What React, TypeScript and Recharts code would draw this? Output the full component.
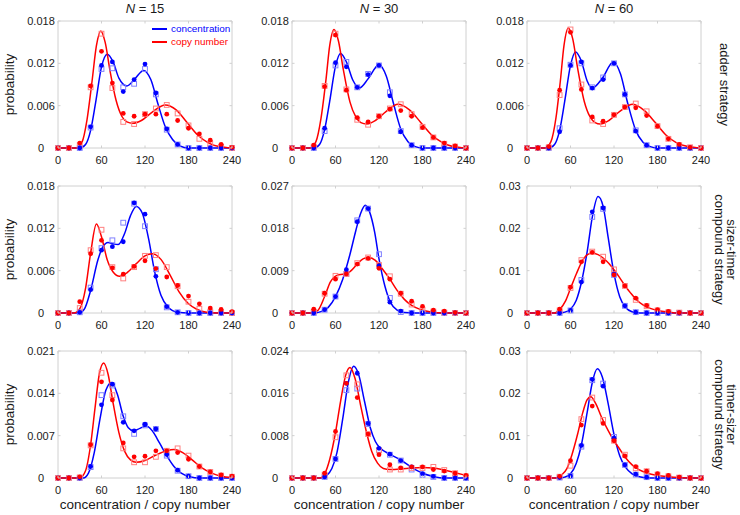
import React from 'react';
import { ComposedChart, Line, Scatter, XAxis, YAxis, ReferenceArea, Legend } from 'recharts';

// ---------- shared axes ----------
const X_POINTS = [0, 15, 30, 45, 60, 75, 90, 105, 120, 135, 150, 165, 180, 195, 210, 225, 240];
const X_TICKS = [0, 60, 120, 180, 240];

const Y_TICKS_A15 = [0, 0.006, 0.012, 0.018];
const Y_TICKS_A30 = [0, 0.006, 0.012, 0.018];
const Y_TICKS_A60 = [0, 0.006, 0.012, 0.018];
const Y_TICKS_ST15 = [0, 0.006, 0.012, 0.018];
const Y_TICKS_ST30 = [0, 0.009, 0.018, 0.027];
const Y_TICKS_ST60 = [0, 0.01, 0.02, 0.03];
const Y_TICKS_TS15 = [0, 0.007, 0.014, 0.021];
const Y_TICKS_TS30 = [0, 0.008, 0.016, 0.024];
const Y_TICKS_TS60 = [0, 0.01, 0.02, 0.03];

const COL_TITLES = ['15', '30', '60'];
const ROW_LABELS = [['adder strategy'], ['sizer-timer', 'compound strategy'], ['timer-sizer', 'compound strategy']];
const LEGEND_ITEMS = [
  { label: 'concentration', color: '#0000ff' },
  { label: 'copy number', color: '#ff0000' },
];

// ---------- adder, N = 15 ----------
const a15ConcDots = [0, 0, 0, 0.003, 0.0117, 0.0122, 0.008, 0.0097, 0.0119, 0.0078, 0.0027, 0.0005, 0, 0, 0, 0, 0];
const a15ConcSq = [0, 0, 0, 0.0029, 0.0112, 0.0113, 0.0086, 0.0091, 0.0112, 0.0076, 0.0026, 0.0005, 0, 0, 0, 0, 0];
const a15CopyDots = [0, 0, 0.0007, 0.0088, 0.0137, 0.0092, 0.0049, 0.0045, 0.0048, 0.0048, 0.0048, 0.0039, 0.0028, 0.002, 0.0011, 0.0005, 0.0001];
const a15CopySq = [0, 0, 0.0004, 0.0086, 0.0162, 0.0085, 0.0037, 0.0034, 0.0048, 0.0056, 0.0061, 0.0049, 0.0032, 0.0013, 0.0006, 0.0002, 0];
const a15ConcCurve = [[0, 0], [30, 0], [38, 0.0005], [45, 0.0025], [52, 0.0065], [60, 0.0115], [68, 0.0133], [76, 0.0122], [84, 0.0099], [95, 0.0088], [106, 0.0098], [118, 0.011], [128, 0.0097], [138, 0.0062], [148, 0.003], [158, 0.0012], [168, 0.0003], [180, 0], [240, 0]];
const a15CopyCurve = [[0, 0], [25, 0], [33, 0.0008], [40, 0.004], [47, 0.0095], [53, 0.0145], [59, 0.0166], [65, 0.015], [72, 0.0108], [80, 0.0068], [88, 0.0045], [95, 0.0037], [103, 0.0035], [115, 0.0039], [130, 0.0051], [148, 0.0061], [163, 0.0054], [178, 0.0036], [193, 0.0018], [208, 0.0007], [222, 0.0002], [240, 0]];

// ---------- adder, N = 30 ----------
const a30ConcDots = [0, 0, 0, 0.0028, 0.0121, 0.0115, 0.0086, 0.0104, 0.0117, 0.0074, 0.0023, 0.0004, 0, 0, 0, 0, 0];
const a30ConcSq = [0, 0, 0, 0.0024, 0.0117, 0.0122, 0.0086, 0.0105, 0.0117, 0.0079, 0.0024, 0.0004, 0, 0, 0, 0, 0];
const a30CopyDots = [0, 0, 0.0004, 0.0087, 0.016, 0.0082, 0.0043, 0.0037, 0.0045, 0.0055, 0.0053, 0.0045, 0.0029, 0.0015, 0.0007, 0.0003, 0];
const a30CopySq = [0, 0, 0.0002, 0.0088, 0.0162, 0.0083, 0.004, 0.0033, 0.0045, 0.0056, 0.0062, 0.0048, 0.003, 0.0015, 0.0006, 0.0002, 0];
const a30ConcCurve = [[0, 0], [30, 0], [38, 0.0005], [45, 0.0026], [52, 0.0066], [60, 0.0116], [67, 0.0134], [75, 0.0122], [84, 0.0096], [93, 0.0085], [105, 0.0098], [120, 0.0118], [130, 0.0102], [140, 0.0063], [150, 0.0027], [160, 0.0009], [170, 0.0002], [180, 0], [240, 0]];
const a30CopyCurve = [[0, 0], [25, 0], [33, 0.0009], [40, 0.0042], [47, 0.0098], [52, 0.0145], [58, 0.0168], [64, 0.0152], [71, 0.011], [80, 0.0065], [88, 0.0044], [95, 0.0036], [103, 0.0034], [115, 0.0039], [130, 0.0052], [146, 0.0062], [162, 0.0054], [177, 0.0037], [192, 0.0019], [207, 0.0008], [222, 0.0002], [240, 0]];

// ---------- adder, N = 60 ----------
const a60ConcDots = [0, 0, 0, 0.0023, 0.0117, 0.0122, 0.0085, 0.0097, 0.012, 0.0076, 0.0024, 0.0004, 0, 0, 0, 0, 0];
const a60ConcSq = [0, 0, 0, 0.0028, 0.0118, 0.012, 0.0086, 0.01, 0.012, 0.0076, 0.0025, 0.0004, 0, 0, 0, 0, 0];
const a60CopyDots = [0, 0, 0.0002, 0.0082, 0.0164, 0.0083, 0.0044, 0.0038, 0.0047, 0.0058, 0.0057, 0.0046, 0.0031, 0.0013, 0.0005, 0.0001, 0];
const a60CopySq = [0, 0, 0.0001, 0.0075, 0.0168, 0.009, 0.0039, 0.0034, 0.0047, 0.0058, 0.0063, 0.0052, 0.0031, 0.0013, 0.0004, 0.0001, 0];
const a60ConcCurve = [[0, 0], [30, 0], [38, 0.0005], [45, 0.0025], [52, 0.0066], [60, 0.0117], [67, 0.0136], [75, 0.0123], [83, 0.0095], [90, 0.0085], [104, 0.0099], [119, 0.0122], [129, 0.0105], [139, 0.0063], [150, 0.0025], [160, 0.0008], [170, 0.0002], [180, 0], [240, 0]];
const a60CopyCurve = [[0, 0], [25, 0], [33, 0.0009], [40, 0.0043], [46, 0.0095], [51, 0.0145], [57, 0.017], [63, 0.0155], [70, 0.0112], [79, 0.0066], [87, 0.0044], [94, 0.0036], [101, 0.0034], [113, 0.0039], [128, 0.0052], [146, 0.0062], [162, 0.0053], [177, 0.0036], [192, 0.0018], [207, 0.0007], [222, 0.0002], [240, 0]];

// ---------- sizer-timer, N = 15 ----------
const st15ConcDots = [0, 0, 0.0001, 0.0033, 0.0089, 0.0094, 0.0101, 0.0156, 0.014, 0.0052, 0.0009, 0.0001, 0, 0, 0, 0, 0];
const st15ConcSq = [0, 0, 0.0001, 0.0036, 0.0092, 0.0103, 0.0128, 0.0155, 0.0123, 0.0062, 0.0008, 0.0001, 0, 0, 0, 0, 0];
const st15CopyDots = [0, 0, 0.0016, 0.0084, 0.0103, 0.0064, 0.0055, 0.0066, 0.0074, 0.0063, 0.0051, 0.0039, 0.0024, 0.0013, 0.0007, 0.0005, 0.0002];
const st15CopySq = [0, 0, 0.0007, 0.0089, 0.0118, 0.0065, 0.0049, 0.0065, 0.0081, 0.0082, 0.0065, 0.0038, 0.0016, 0.0006, 0.0002, 0.0001, 0];
const st15ConcCurve = [[0, 0], [28, 0], [36, 0.0005], [45, 0.0032], [55, 0.0075], [62, 0.0094], [69, 0.01], [76, 0.0098], [83, 0.0097], [92, 0.0113], [100, 0.0138], [108, 0.0151], [116, 0.0142], [125, 0.0105], [133, 0.006], [142, 0.0025], [152, 0.0008], [165, 0.0001], [180, 0], [240, 0]];
const st15CopyCurve = [[0, 0], [22, 0], [30, 0.0006], [38, 0.0035], [45, 0.0085], [53, 0.0126], [60, 0.0108], [68, 0.0075], [76, 0.0058], [85, 0.0052], [95, 0.0057], [108, 0.007], [120, 0.0081], [130, 0.0084], [142, 0.0076], [155, 0.0053], [167, 0.003], [180, 0.0013], [192, 0.0005], [205, 0.0001], [220, 0], [240, 0]];

// ---------- sizer-timer, N = 30 ----------
const st30ConcDots = [0, 0, 0, 0.0007, 0.0035, 0.0092, 0.0194, 0.0222, 0.01, 0.0023, 0.0004, 0, 0, 0, 0, 0, 0];
const st30ConcSq = [0, 0, 0, 0.0007, 0.0035, 0.0083, 0.0197, 0.0222, 0.0125, 0.0032, 0.0002, 0, 0, 0, 0, 0, 0];
const st30CopyDots = [0, 0, 0.0008, 0.0042, 0.0072, 0.0083, 0.0104, 0.0116, 0.0095, 0.0072, 0.0042, 0.0025, 0.0014, 0.0006, 0.0004, 0.0001, 0];
const st30CopySq = [0, 0, 0.0003, 0.0041, 0.0079, 0.0083, 0.0106, 0.0118, 0.0102, 0.0078, 0.0041, 0.0018, 0.0007, 0.0003, 0.0001, 0, 0];
const st30ConcCurve = [[0, 0], [30, 0], [40, 0.0003], [50, 0.0012], [60, 0.0035], [70, 0.0072], [80, 0.0125], [88, 0.0175], [95, 0.0213], [101, 0.0229], [107, 0.0215], [114, 0.0172], [120, 0.0115], [128, 0.0058], [136, 0.0022], [145, 0.0006], [155, 0.0001], [170, 0], [240, 0]];
const st30CopyCurve = [[0, 0], [28, 0], [36, 0.0006], [45, 0.0035], [53, 0.0066], [62, 0.008], [72, 0.0083], [80, 0.0088], [90, 0.0104], [98, 0.0115], [106, 0.0118], [115, 0.0112], [125, 0.0093], [135, 0.0072], [145, 0.0048], [155, 0.0029], [165, 0.0016], [178, 0.0007], [192, 0.0002], [210, 0], [240, 0]];

// ---------- sizer-timer, N = 60 ----------
const st60ConcDots = [0, 0, 0, 0, 0.0006, 0.0073, 0.0239, 0.0248, 0.0092, 0.0017, 0.0002, 0, 0, 0, 0, 0, 0];
const st60ConcSq = [0, 0, 0, 0, 0.0006, 0.0078, 0.0227, 0.0246, 0.009, 0.0017, 0.0002, 0, 0, 0, 0, 0, 0];
const st60CopyDots = [0, 0, 0, 0.0009, 0.0061, 0.0121, 0.0143, 0.0121, 0.009, 0.0064, 0.0035, 0.0018, 0.0008, 0.0004, 0.0001, 0, 0];
const st60CopySq = [0, 0, 0, 0.0006, 0.0059, 0.0125, 0.0145, 0.0133, 0.0103, 0.0064, 0.0031, 0.0016, 0.0006, 0.0002, 0.0001, 0, 0];
const st60ConcCurve = [[0, 0], [45, 0], [52, 0.0002], [60, 0.0009], [68, 0.003], [75, 0.0072], [83, 0.0145], [90, 0.0226], [98, 0.0275], [105, 0.0252], [112, 0.0178], [120, 0.0093], [128, 0.0038], [136, 0.0013], [145, 0.0003], [155, 0], [240, 0]];
const st60CopyCurve = [[0, 0], [38, 0], [45, 0.0008], [53, 0.0028], [60, 0.0058], [68, 0.0092], [75, 0.0119], [82, 0.0136], [90, 0.0142], [98, 0.0138], [105, 0.013], [113, 0.0117], [120, 0.0102], [128, 0.0083], [135, 0.0065], [143, 0.0047], [150, 0.0033], [160, 0.0019], [170, 0.0011], [180, 0.0006], [195, 0.0002], [210, 0], [240, 0]];

// ---------- timer-sizer, N = 15 ----------
const ts15ConcDots = [0, 0, 0, 0.0019, 0.0121, 0.0155, 0.0092, 0.0078, 0.0089, 0.0081, 0.0039, 0.0013, 0.0003, 0, 0, 0, 0];
const ts15ConcSq = [0, 0, 0, 0.0018, 0.0137, 0.0153, 0.0102, 0.0073, 0.0087, 0.0081, 0.0037, 0.0012, 0.0003, 0, 0, 0, 0];
const ts15CopyDots = [0, 0, 0.0002, 0.0055, 0.0159, 0.0129, 0.0058, 0.0035, 0.0036, 0.0045, 0.0045, 0.0042, 0.0031, 0.0019, 0.001, 0.0005, 0.0003];
const ts15CopySq = [0, 0, 0.0001, 0.0054, 0.0174, 0.0137, 0.0049, 0.0026, 0.0026, 0.0035, 0.0045, 0.0049, 0.0037, 0.0019, 0.001, 0.0004, 0.0002];
const ts15ConcCurve = [[0, 0], [35, 0], [42, 0.0008], [50, 0.0042], [58, 0.0098], [66, 0.0145], [74, 0.0158], [82, 0.0138], [90, 0.0102], [97, 0.0083], [104, 0.0078], [113, 0.0082], [122, 0.0086], [130, 0.0078], [140, 0.0058], [150, 0.0037], [160, 0.0019], [170, 0.0008], [182, 0.0002], [195, 0], [240, 0]];
const ts15CopyCurve = [[0, 0], [30, 0], [38, 0.0012], [45, 0.0055], [51, 0.0115], [57, 0.0172], [63, 0.019], [69, 0.0172], [76, 0.0124], [84, 0.0075], [92, 0.0044], [100, 0.003], [108, 0.0026], [120, 0.0029], [135, 0.0038], [150, 0.0045], [160, 0.0047], [172, 0.0042], [185, 0.003], [198, 0.0017], [212, 0.0008], [225, 0.0003], [240, 0.0001]];

// ---------- timer-sizer, N = 30 ----------
const ts30ConcDots = [0, 0, 0, 0.0002, 0.0036, 0.0179, 0.0198, 0.0103, 0.0056, 0.0045, 0.0033, 0.0021, 0.0008, 0.0003, 0, 0, 0];
const ts30ConcSq = [0, 0, 0, 0.0002, 0.0036, 0.0166, 0.0169, 0.0102, 0.0053, 0.0044, 0.0033, 0.0016, 0.0006, 0.0002, 0, 0, 0];
const ts30CopyDots = [0, 0, 0, 0.0009, 0.0088, 0.0179, 0.0152, 0.0083, 0.0044, 0.0025, 0.0019, 0.0021, 0.0021, 0.0016, 0.0013, 0.0009, 0.0005];
const ts30CopySq = [0, 0, 0, 0.0006, 0.0077, 0.0194, 0.0177, 0.0083, 0.0052, 0.0016, 0.0016, 0.0019, 0.0019, 0.0021, 0.0015, 0.0009, 0.0003];
const ts30ConcCurve = [[0, 0], [40, 0], [48, 0.0005], [55, 0.0018], [62, 0.0048], [70, 0.0112], [78, 0.0183], [85, 0.0211], [92, 0.0195], [100, 0.0145], [108, 0.0095], [115, 0.0069], [122, 0.0056], [135, 0.0045], [150, 0.0034], [165, 0.002], [180, 0.0009], [195, 0.0003], [210, 0], [240, 0]];
const ts30CopyCurve = [[0, 0], [38, 0], [45, 0.0008], [52, 0.0035], [60, 0.0086], [67, 0.0145], [74, 0.0194], [80, 0.0209], [87, 0.0188], [95, 0.0135], [103, 0.0085], [110, 0.005], [118, 0.0028], [126, 0.0018], [135, 0.0016], [150, 0.0017], [165, 0.0019], [180, 0.002], [195, 0.0019], [210, 0.0015], [225, 0.001], [240, 0.0005]];

// ---------- timer-sizer, N = 60 ----------
const ts60ConcDots = [0, 0, 0, 0.0001, 0.0005, 0.0077, 0.0233, 0.0217, 0.0094, 0.0031, 0.0009, 0.0002, 0, 0, 0, 0, 0];
const ts60ConcSq = [0, 0, 0, 0.0001, 0.0005, 0.0074, 0.0231, 0.0223, 0.0097, 0.0031, 0.0008, 0.0002, 0, 0, 0, 0, 0];
const ts60CopyDots = [0, 0, 0, 0.0004, 0.0041, 0.0125, 0.017, 0.0129, 0.0088, 0.0052, 0.0027, 0.0016, 0.001, 0.0006, 0.0002, 0, 0];
const ts60CopySq = [0, 0, 0, 0.0003, 0.0029, 0.0139, 0.019, 0.0137, 0.0088, 0.0055, 0.0023, 0.0016, 0.0008, 0.0004, 0.0001, 0, 0];
const ts60ConcCurve = [[0, 0], [45, 0], [52, 0.0002], [60, 0.001], [68, 0.0035], [75, 0.0078], [83, 0.0155], [90, 0.0225], [97, 0.0258], [104, 0.0238], [112, 0.0175], [120, 0.0103], [128, 0.0052], [136, 0.0025], [145, 0.001], [155, 0.0003], [170, 0], [240, 0]];
const ts60CopyCurve = [[0, 0], [40, 0], [47, 0.0006], [55, 0.0022], [62, 0.0055], [70, 0.0105], [77, 0.0155], [83, 0.0185], [88, 0.0192], [95, 0.0175], [103, 0.0143], [112, 0.0112], [120, 0.0088], [128, 0.0068], [136, 0.0048], [145, 0.0031], [155, 0.0019], [165, 0.0012], [180, 0.0006], [195, 0.0003], [210, 0.0001], [225, 0], [240, 0]];

const PANELS = [
  { row: 0, col: 0, yTicks: Y_TICKS_A15, concDots: a15ConcDots, concSq: a15ConcSq, copyDots: a15CopyDots, copySq: a15CopySq, concCurve: a15ConcCurve, copyCurve: a15CopyCurve, legend: true },
  { row: 0, col: 1, yTicks: Y_TICKS_A30, concDots: a30ConcDots, concSq: a30ConcSq, copyDots: a30CopyDots, copySq: a30CopySq, concCurve: a30ConcCurve, copyCurve: a30CopyCurve },
  { row: 0, col: 2, yTicks: Y_TICKS_A60, concDots: a60ConcDots, concSq: a60ConcSq, copyDots: a60CopyDots, copySq: a60CopySq, concCurve: a60ConcCurve, copyCurve: a60CopyCurve },
  { row: 1, col: 0, yTicks: Y_TICKS_ST15, concDots: st15ConcDots, concSq: st15ConcSq, copyDots: st15CopyDots, copySq: st15CopySq, concCurve: st15ConcCurve, copyCurve: st15CopyCurve },
  { row: 1, col: 1, yTicks: Y_TICKS_ST30, concDots: st30ConcDots, concSq: st30ConcSq, copyDots: st30CopyDots, copySq: st30CopySq, concCurve: st30ConcCurve, copyCurve: st30CopyCurve },
  { row: 1, col: 2, yTicks: Y_TICKS_ST60, concDots: st60ConcDots, concSq: st60ConcSq, copyDots: st60CopyDots, copySq: st60CopySq, concCurve: st60ConcCurve, copyCurve: st60CopyCurve },
  { row: 2, col: 0, yTicks: Y_TICKS_TS15, concDots: ts15ConcDots, concSq: ts15ConcSq, copyDots: ts15CopyDots, copySq: ts15CopySq, concCurve: ts15ConcCurve, copyCurve: ts15CopyCurve },
  { row: 2, col: 1, yTicks: Y_TICKS_TS30, concDots: ts30ConcDots, concSq: ts30ConcSq, copyDots: ts30CopyDots, copySq: ts30CopySq, concCurve: ts30ConcCurve, copyCurve: ts30CopyCurve },
  { row: 2, col: 2, yTicks: Y_TICKS_TS60, concDots: ts60ConcDots, concSq: ts60ConcSq, copyDots: ts60CopyDots, copySq: ts60CopySq, concCurve: ts60ConcCurve, copyCurve: ts60CopyCurve },
];

// ---------- layout / style ----------
const FONT = '"Liberation Sans", Arial, Helvetica, sans-serif';
const BLUE = '#0000ff';
const RED = '#ff0000';
const BLUE_LIGHT = '#8080ff';
const RED_LIGHT = '#ff8080';
const FRAME = '#d0d0d0';
const TEXT = '#1a1a1a';

const PLOT_LEFT = [58, 292, 527];
const PLOT_TOP = [21, 186, 351];
const PLOT_W = 174;
const PLOT_H = 127;
const Y_AXIS_W = 40;
const X_AXIS_H = 25;
const M_TOP = 10;
const M_RIGHT = 10;
const TICK_LEN = 2.5;
const CHART_W = Y_AXIS_W + PLOT_W + M_RIGHT;
const CHART_H = M_TOP + PLOT_H + X_AXIS_H;

const toCurve = (pairs: number[][]) => pairs.map(([x, y]) => ({ x, y }));
const toPoints = (vals: number[]) => X_POINTS.map((x, i) => ({ x, y: vals[i] }));

const makeSquare = (color: string) => (props: any) => {
  const { cx, cy } = props;
  if (cx == null || cy == null) return <g />;
  return <rect x={cx - 2.4} y={cy - 2.4} width={4.8} height={4.8} fill="none" stroke={color} strokeWidth={1} />;
};
const makeDot = (color: string) => (props: any) => {
  const { cx, cy } = props;
  if (cx == null || cy == null) return <g />;
  return <circle cx={cx} cy={cy} r={2.4} fill={color} />;
};

// y tick: label centred left of the frame, plus short inward marks on left and right edges
const YTick = (props: any) => {
  const { x, y, payload } = props;
  return (
    <g>
      <line x1={x} x2={x + TICK_LEN} y1={y} y2={y} stroke={FRAME} />
      <line x1={x + PLOT_W} x2={x + PLOT_W - TICK_LEN} y1={y} y2={y} stroke={FRAME} />
      <text x={x - 17} y={y} dy="0.36em" textAnchor="middle" fontSize={11} fontFamily={FONT} fill={TEXT}>
        {String(payload.value)}
      </text>
    </g>
  );
};
// x tick: label under the frame, plus short inward marks on bottom and top edges
const XTick = (props: any) => {
  const { x, y, payload } = props;
  return (
    <g>
      <line x1={x} x2={x} y1={y} y2={y - TICK_LEN} stroke={FRAME} />
      <line x1={x} x2={x} y1={y - PLOT_H} y2={y - PLOT_H + TICK_LEN} stroke={FRAME} />
      <text x={x} y={y + 16} textAnchor="middle" fontSize={11} fontFamily={FONT} fill={TEXT}>
        {String(payload.value)}
      </text>
    </g>
  );
};

const LegendContent = () => (
  <div style={{ fontFamily: FONT, fontSize: 9.9, lineHeight: '13.4px' }}>
    {LEGEND_ITEMS.map((item) => (
      <div key={item.label} style={{ display: 'flex', alignItems: 'center', color: item.color, whiteSpace: 'nowrap' }}>
        <span style={{ display: 'inline-block', width: 15, height: 0, borderTop: `2px solid ${item.color}`, marginRight: 4 }} />
        {item.label}
      </div>
    ))}
  </div>
);

function Panel({ p }: { p: any }) {
  const left = PLOT_LEFT[p.col] - Y_AXIS_W;
  const top = PLOT_TOP[p.row] - M_TOP;
  const ymax = p.yTicks[p.yTicks.length - 1];
  return (
    <div style={{ position: 'absolute', left, top, width: CHART_W, height: CHART_H }}>
      <ComposedChart width={CHART_W} height={CHART_H} margin={{ top: M_TOP, right: M_RIGHT, bottom: 0, left: 0 }}>
        <ReferenceArea x1={0} x2={240} y1={0} y2={ymax} fill="none" stroke={FRAME} strokeWidth={1} ifOverflow="visible" />
        <XAxis
          type="number"
          dataKey="x"
          domain={[0, 240]}
          ticks={X_TICKS}
          interval={0}
          tickLine={false}
          axisLine={false}
          tickSize={0}
          tickMargin={0}
          height={X_AXIS_H}
          tick={<XTick />}
        />
        <YAxis
          type="number"
          dataKey="y"
          domain={[0, ymax]}
          ticks={p.yTicks}
          interval={0}
          tickLine={false}
          axisLine={false}
          tickSize={0}
          tickMargin={0}
          width={Y_AXIS_W}
          tick={<YTick />}
        />
        <Scatter data={toPoints(p.concSq)} shape={makeSquare(BLUE_LIGHT)} isAnimationActive={false} />
        <Scatter data={toPoints(p.copySq)} shape={makeSquare(RED_LIGHT)} isAnimationActive={false} />
        <Line data={toCurve(p.concCurve)} dataKey="y" type="monotone" stroke={BLUE} strokeWidth={1.5} dot={false} activeDot={false} isAnimationActive={false} />
        <Line data={toCurve(p.copyCurve)} dataKey="y" type="monotone" stroke={RED} strokeWidth={1.5} dot={false} activeDot={false} isAnimationActive={false} />
        <Scatter data={toPoints(p.concDots)} shape={makeDot(BLUE)} isAnimationActive={false} />
        <Scatter data={toPoints(p.copyDots)} shape={makeDot(RED)} isAnimationActive={false} />
        {p.legend ? (
          <Legend
            layout="vertical"
            align="center"
            verticalAlign="middle"
            content={<LegendContent />}
            wrapperStyle={{ left: 134, top: 11, width: 'auto', bottom: 'auto', right: 'auto' }}
          />
        ) : null}
      </ComposedChart>
    </div>
  );
}

function Overlay() {
  return (
    <svg width={740} height={515} style={{ position: 'absolute', left: 0, top: 0, pointerEvents: 'none' }} fontFamily={FONT} fill={TEXT}>
      {COL_TITLES.map((n, c) => (
        <text key={'t' + c} x={PLOT_LEFT[c] + PLOT_W / 2} y={13} textAnchor="middle" fontSize={13}>
          <tspan fontStyle="italic">N</tspan>
          <tspan> = {n}</tspan>
        </text>
      ))}
      {PLOT_TOP.map((t, r) => (
        <text key={'p' + r} transform={`translate(14, ${t + PLOT_H / 2}) rotate(-90)`} textAnchor="middle" fontSize={13.5}>
          probability
        </text>
      ))}
      {PLOT_LEFT.map((l, c) => (
        <text key={'x' + c} x={l + PLOT_W / 2} y={509} textAnchor="middle" fontSize={13.5}>
          concentration / copy number
        </text>
      ))}
      {ROW_LABELS.map((lines, r) =>
        lines.map((line, i) => {
          const bx = lines.length === 1 ? 720 : 727 - i * 12.5;
          return (
            <text key={'r' + r + i} transform={`translate(${bx}, ${PLOT_TOP[r] + PLOT_H / 2}) rotate(90)`} textAnchor="middle" fontSize={13}>
              {line}
            </text>
          );
        })
      )}
    </svg>
  );
}

export default function App() {
  return (
    <div style={{ position: 'absolute', left: 0, top: 0, width: 740, height: 515, background: '#fff', overflow: 'hidden' }}>
      {PANELS.map((p) => (
        <Panel key={p.row + '-' + p.col} p={p} />
      ))}
      <Overlay />
    </div>
  );
}
